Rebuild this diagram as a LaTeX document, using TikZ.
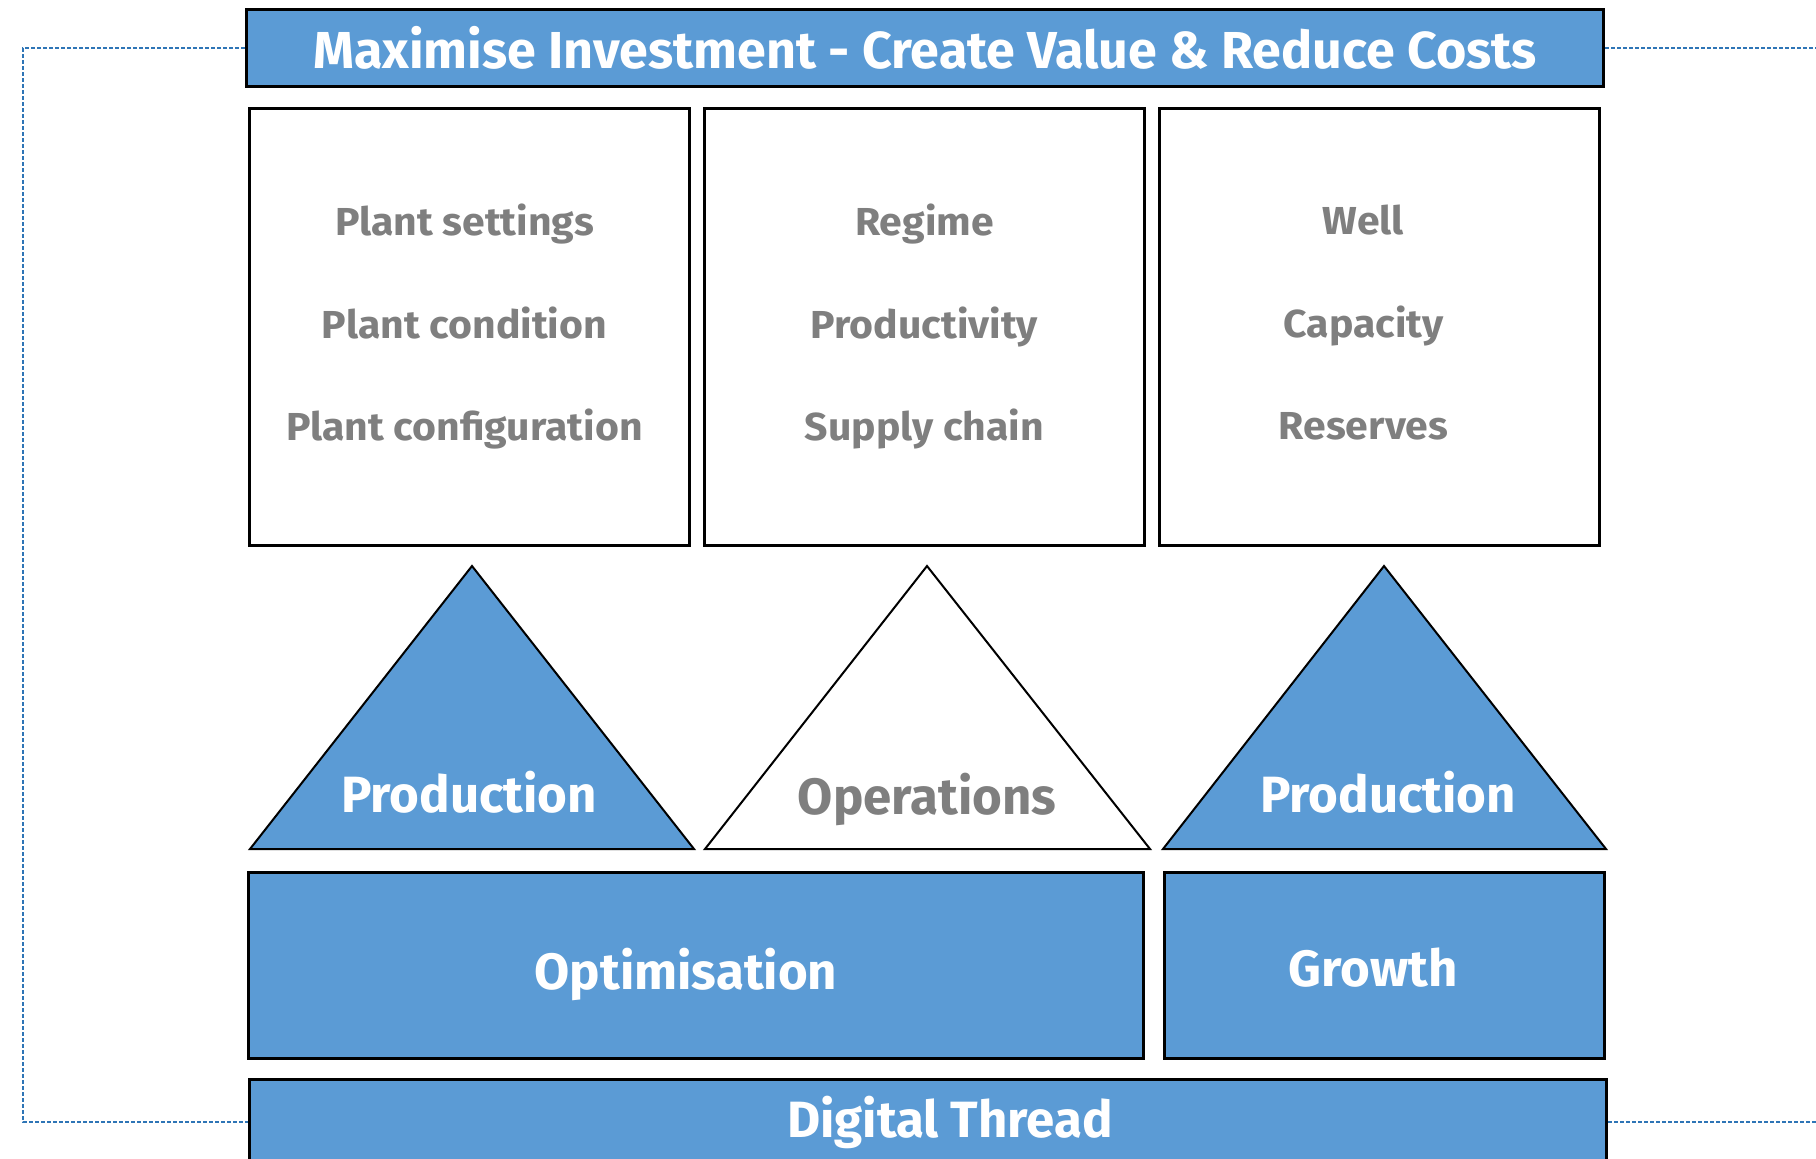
\documentclass[tikz,border=0pt]{standalone}
\usepackage{fontspec}
\setmainfont{Carlito}
\newfontfamily\pillarfont{Fira Sans}
\newfontfamily\driverfont[FakeStretch=1.05]{Fira Sans}
\usepackage{tikz}
\usetikzlibrary{positioning}
\definecolor{pillarblue}{RGB}{91,155,213}
\definecolor{labelgray}{RGB}{127,127,127}
\definecolor{threadblue}{RGB}{46,117,182}

\begin{document}
\begin{tikzpicture}[
    x=0.5pt, y=-0.5pt,
    bluebox/.style={rectangle, draw=black, line width=1.5pt, fill=pillarblue, text=white, font=\pillarfont\bfseries\fontsize{26}{30}\selectfont, inner sep=0pt},
    whitebox/.style={rectangle, draw=black, line width=1.5pt, fill=white, minimum width=220pt, minimum height=218.5pt},
    driverlist/.style={text=labelgray, align=center, font=\driverfont\bfseries\fontsize{19.5}{51.25}\selectfont, execute at begin node=\vphantom{lg}, execute at end node=\vphantom{lg}},
    pillar/.style={draw=black, line width=1pt, line join=miter},
    biglabel/.style={font=\pillarfont\bfseries\fontsize{25.5}{30}\selectfont},
    dashline/.style={draw=threadblue, line width=0.6pt, dash pattern=on 2pt off 1pt}
]
\clip (0,0) rectangle (1816,1158);

% Goal banner
\node[bluebox, minimum width=678.5pt, minimum height=38.5pt] (goal) at (925,48) {Maximise Investment - Create Value \& Reduce Costs};

% Drivers
\node[whitebox] (plant) at (469.5,327) {};
\node[whitebox, right=6pt of plant] (regime) {};
\node[whitebox, right=6pt of regime] (well) {};
\node[driverlist] (plantitems) at ([xshift=-2.5pt]plant) {Plant settings\\Plant condition\\Plant configuration};
\node[driverlist] (regimeitems) at (regime) {Regime\\Productivity\\Supply chain};
\node[driverlist] (wellitems) at ([xshift=-8pt]well) {Well\\Capacity\\Reserves};

% Pillars
\draw[pillar, fill=pillarblue] (250,849) -- (472,566) -- (694,849) -- cycle;
\draw[pillar, fill=white] (705,849) -- (927,566) -- (1150,849) -- cycle;
\draw[pillar, fill=pillarblue] (1163,849) -- (1384,566) -- (1606,849) -- cycle;
\node[biglabel, text=white] (prodA) at (469,792) {Production};
\node[biglabel, text=labelgray] (ops) at (927,799) {Operations};
\node[biglabel, text=white] (prodB) at (1388,792) {Production};

% Foundations
\node[bluebox, minimum width=447.5pt, minimum height=93pt] (optim) at (696,965.5) {};
\node[biglabel, text=white] (optimlabel) at (686,974) {Optimisation};
\node[bluebox, minimum width=220pt, minimum height=93pt] (growth) at (1384.5,965.5) {};
\node[biglabel, text=white] (growthlabel) at (1373,968) {Growth};
\node[bluebox, minimum width=678.5pt, minimum height=43pt] (thread) at (928,1122) {};
\node[biglabel, text=white] (threadlabel) at (950,1122) {Digital Thread};

% Dashed loop
\coordinate (leftrail) at (23,1120);
\coordinate (edgeR) at (1830,0);
\draw[dashline] (goal.west) -| (leftrail) |- (thread.west);
\draw[dashline] (goal.east) -- (goal.east -| edgeR);
\draw[dashline] (thread.east) -- (thread.east -| edgeR);

\end{tikzpicture}
\end{document}
